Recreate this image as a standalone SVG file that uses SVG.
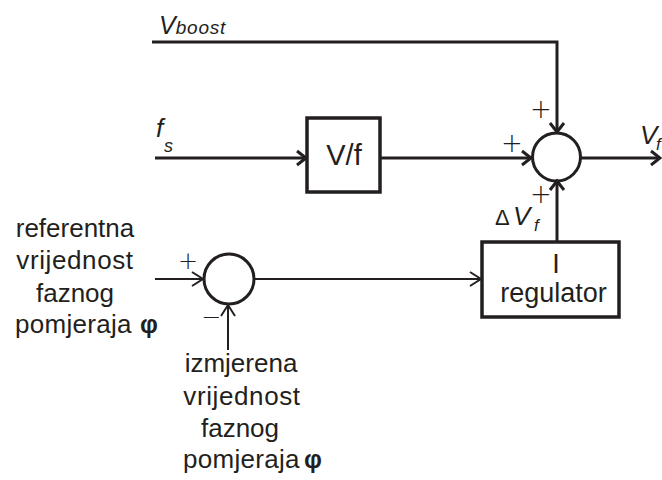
<svg xmlns="http://www.w3.org/2000/svg" width="662" height="480" viewBox="0 0 662 480">
<style>
.t{font-family:"Liberation Sans",Arial,sans-serif;fill:#231f20}
.i{font-style:italic}
.p{font-family:"DejaVu Sans","Liberation Sans",sans-serif;font-weight:200;fill:#231f20}
.w{stroke:#231f20;stroke-width:3;fill:none}
.n{stroke:#231f20;stroke-width:2;fill:none}
.box{stroke:#231f20;stroke-width:3.5;fill:#fff}
</style>
<defs>
<marker id="ah" markerUnits="userSpaceOnUse" viewBox="-12 -9 14 18" refX="0" refY="0" markerWidth="14" markerHeight="18" orient="auto" overflow="visible">
<path d="M-9,-7 L0,0 L-9,7" fill="none" stroke="#231f20" stroke-width="3"/>
</marker>
<marker id="ahn" markerUnits="userSpaceOnUse" viewBox="-12 -9 14 18" refX="0" refY="0" markerWidth="14" markerHeight="18" orient="auto" overflow="visible">
<path d="M-11,-7 L0,0 L-11,7" fill="none" stroke="#231f20" stroke-width="2"/>
</marker>
</defs>
<rect width="662" height="480" fill="#fff"/>
<g id="connectors">
<path class="w" d="M152,42 H557 V132" marker-end="url(#ah)"/>
<path class="w" d="M155,158 H306" marker-end="url(#ah)"/>
<path class="w" d="M380,158 H531" marker-end="url(#ah)"/>
<path class="w" d="M581,158 H660" marker-end="url(#ah)"/>
<path class="w" d="M557,242 V181" marker-end="url(#ah)"/>
<path class="n" d="M155,279 H203" marker-end="url(#ahn)"/>
<path class="n" d="M228,350 V305" marker-end="url(#ahn)"/>
<path class="n" d="M254,279 H481" marker-end="url(#ahn)"/>
</g>
<g id="sum1">
<circle cx="556.5" cy="157" r="24" class="w" stroke-width="3.5"/>
<text class="p" x="541" y="118" font-size="26" text-anchor="middle">+</text>
<text class="p" x="512" y="152" font-size="26" text-anchor="middle">+</text>
<text class="p" x="541" y="203" font-size="26" text-anchor="middle">+</text>
</g>
<g id="sum2">
<circle cx="229" cy="279" r="25" class="w" stroke-width="3.5"/>
<text class="p" x="188" y="269" font-size="24" text-anchor="middle">+</text>
<text class="p" x="211" y="325" font-size="24" text-anchor="middle">−</text>
</g>
<g id="vf">
<rect x="307" y="118" width="73" height="74" class="box"/>
<text class="t" x="344" y="165" font-size="29" text-anchor="middle">V/f</text>
</g>
<g id="regulator">
<rect x="482" y="242" width="137" height="75" class="box"/>
<text class="t" x="556" y="273" font-size="27" text-anchor="middle">I</text>
<text class="t" x="553.5" y="302" font-size="27" text-anchor="middle">regulator</text>
</g>
<g id="vboost">
<text class="t i" x="159" y="34" font-size="25">V<tspan font-size="19" letter-spacing="0.8">boost</tspan></text>
</g>
<g id="fs">
<text class="t i" x="156" y="137" font-size="26">f</text>
<text class="t i" x="164" y="152" font-size="18">s</text>
</g>
<g id="dvf">
<text class="t" x="495" y="225" font-size="22">Δ</text>
<text class="t i" x="513" y="225" font-size="26">V</text>
<text class="t i" x="534" y="231" font-size="17">f</text>
</g>
<g id="vout">
<text class="t i" x="640" y="144" font-size="26">V</text>
<text class="t i" x="656" y="150" font-size="17">f</text>
</g>
<g id="ref">
<text class="t" x="75" y="237" font-size="26" text-anchor="middle">referentna</text>
<text class="t" x="75" y="269" font-size="26" text-anchor="middle" letter-spacing="0.6">vrijednost</text>
<text class="t" x="75" y="302" font-size="26" text-anchor="middle">faznog</text>
<text class="t" x="15" y="333" font-size="26" letter-spacing="0.3">pomjeraja</text>
<text class="t" x="140" y="333" font-size="25" font-weight="bold">φ</text>
</g>
<g id="meas">
<text class="t" x="241" y="372" font-size="26" text-anchor="middle">izmjerena</text>
<text class="t" x="242" y="405" font-size="26" text-anchor="middle" letter-spacing="0.6">vrijednost</text>
<text class="t" x="240" y="437" font-size="26" text-anchor="middle">faznog</text>
<text class="t" x="183" y="468" font-size="26" letter-spacing="0.3">pomjeraja</text>
<text class="t" x="304" y="468" font-size="25" font-weight="bold">φ</text>
</g>
</svg>
